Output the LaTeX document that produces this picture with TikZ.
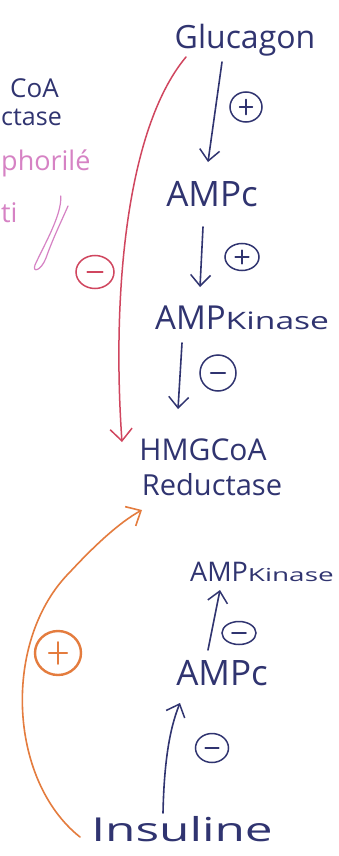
\documentclass[tikz,border=0pt]{standalone}
\usepackage{fontspec}
\setmainfont{Open Sans}
\usetikzlibrary{arrows.meta,calc,shapes.geometric}
\definecolor{ink}{RGB}{48,52,112}
\definecolor{redink}{RGB}{208,70,95}
\definecolor{pinkink}{RGB}{214,130,196}
\definecolor{orangeink}{RGB}{228,124,62}
\newcommand{\fs}[1]{\fontsize{#1}{#1}\selectfont}
\begin{document}
\begin{tikzpicture}[x=1pt,y=-1pt,
  lbl/.style={text=ink,inner sep=0pt},
  side/.style={inner sep=0pt,anchor=west},
  inkarr/.style={draw=ink,line width=1.6pt,line cap=round,
    -{Straight Barb[length=11pt,width=20pt,line width=1.5pt]}},
  signbase/.style={draw=#1,ellipse,line width=1.5pt,inner sep=0pt},
  hbar/.style={path picture={\draw[#1,line width=2pt,line cap=round]
      ($(path picture bounding box.west)!0.3!(path picture bounding box.east)$) --
      ($(path picture bounding box.west)!0.7!(path picture bounding box.east)$);}},
  vbar/.style={path picture={\draw[#1,line width=1.6pt,line cap=round]
      ($(path picture bounding box.west)!0.3!(path picture bounding box.east)$) --
      ($(path picture bounding box.west)!0.7!(path picture bounding box.east)$)
      ($(path picture bounding box.north)!0.25!(path picture bounding box.south)$) --
      ($(path picture bounding box.north)!0.75!(path picture bounding box.south)$);}},
  plus/.style={signbase=#1,vbar=#1},
  minus/.style={signbase=#1,hbar=#1}]
\useasboundingbox (0,0) rectangle (339,856);
\fill[white] (0,0) rectangle (339,856);
\clip (0,0) rectangle (339,856);

% pathway labels
\node[lbl,font=\fs{32}] (glu) at (245,40) {Glucagon};
\node[lbl,font=\fs{35}] (ampc1) at (212,194) {AMPc};
\node[lbl,anchor=west] (ampk1) at (155,318) {{\fs{33}AMP}{\fs{24}\scalebox{1.4}[1]{Kinase}}};
\node[lbl,font=\fs{30}] (hmg) at (203,450) {HMGCoA};
\node[lbl,font=\fs{29}] (red) at (212,485) {Reductase};
\node[lbl,anchor=west] (ampk2) at (190,572) {{\fs{27}AMP}{\fs{18}\scalebox{1.55}[1]{Kinase}}};
\node[lbl,font=\fs{35}] (ampc2) at (222,673) {AMPc};
\node[lbl,font=\fs{33}] (ins) at (182,829) {\scalebox{1.5}[1]{Insuline}};

% margin notes
\node[side,text=ink,font=\fs{26}] (n1) at (10,88) {CoA};
\node[side,text=ink,font=\fs{25}] (n2) at (1,117) {ctase};
\node[side,text=pinkink,font=\fs{27}] (n3) at (1,163) {phorilé};
\node[side,text=pinkink,font=\fs{27}] (n4) at (1,213) {ti};
\draw[pinkink,line width=1.2pt,line cap=round,line join=round]
  ($(n4.east)+(43,-17)$) .. controls (62,215) and (44,245) .. (35,265)
  .. controls (32,273) and (41,271) .. (46,258)
  .. controls (53,238) and (62,220) .. (68,206);

% glucagon cascade
\draw[inkarr] ($(glu)+(-23,22)$) -- ($(ampc1)+(-4,-32)$);
\node[plus=ink,minimum width=32pt,minimum height=30pt] (s1) at (246,107) {};
\draw[inkarr] ($(ampc1)+(-9,33)$) -- ($(ampk1.west)+(45,-31)$);
\node[plus=ink,minimum width=34pt,minimum height=27pt] (s2) at (242,257) {};
\draw[inkarr] ($(ampk1.west)+(27,25)$) -- ($(hmg)+(-25,-41)$);
\node[minus=ink,minimum width=36pt,minimum height=36pt] (s3) at (218,373) {};

% insulin cascade
\draw[inkarr] ($(ins)+(-19,-16)$) .. controls (164,765) and (169,730) .. ($(ampc2)+(-42,30)$);
\node[minus=ink,minimum width=33pt,minimum height=29pt] (s4) at (212,748) {};
\draw[inkarr] ($(ampc2)+(-14,-23)$) -- ($(ampk2.west)+(30,18)$);
\node[minus=ink,minimum width=34pt,minimum height=23pt] (s5) at (239,633) {};

% glucagon inhibits the reductase
\draw[redink,line width=1.5pt,line cap=round,
  -{Straight Barb[length=12pt,width=22pt,line width=1.5pt]}]
  ($(glu)+(-59,17)$) .. controls (125,130) and (112,300) .. ($(hmg)+(-81,-8)$);
\node[minus=redink,minimum width=38pt,minimum height=33pt] (s6) at (95,272) {};

% insulin activates the reductase
\draw[orangeink,line width=1.6pt,line cap=round,
  -{Straight Barb[length=12pt,width=22pt,line width=1.6pt]}]
  ($(ins)+(-102,8)$) .. controls (8,780) and (2,640) .. (70,572)
  .. controls (95,545) and (120,522) .. ($(red)+(-70,25)$);
\node[plus=orangeink,minimum width=46pt,minimum height=44pt,line width=2.4pt] (s7) at (58,653) {};
\end{tikzpicture}
\end{document}
